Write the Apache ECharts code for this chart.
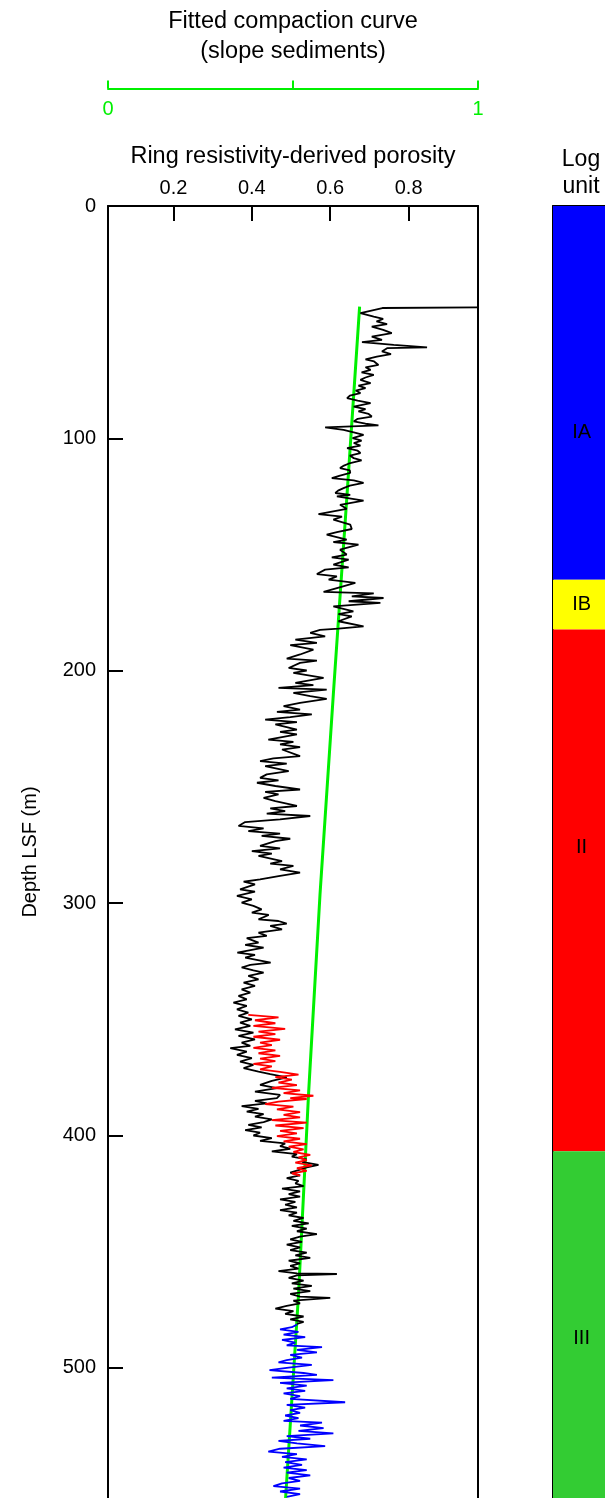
<!DOCTYPE html>
<html>
<head>
<meta charset="utf-8">
<script src="https://cdn.jsdelivr.net/npm/echarts@6/dist/echarts.min.js"></script>
<style>html,body{margin:0;padding:0;background:#fff}#c{width:605px;height:1498px}</style>
</head>
<body>
<div id="c"></div>
<script>
// ---------------- DATA ----------------
const porTicks = [0.2, 0.4, 0.6, 0.8];
const depthTicks = [0, 100, 200, 300, 400, 500];
const fitTicks = [0, 0.5, 1];
const fitTickLabels = [0, 1];

// Black: ring resistivity-derived porosity [depth m, porosity]
const blackCurve = [[43.6,.977],[43.9,.733],[44.7,.728],[46.1,.677],[47.6,.711],[48.6,.735],[49.7,.718],[50.8,.745],[51.9,.706],[53.3,.735],[54.7,.757],[56.2,.706],[57.6,.732],[58.6,.681],[59.8,.762],[60.8,.847],[61.2,.745],[62.6,.732],[63.7,.755],[64.8,.719],[66.0,.690],[66.9,.712],[68.4,.723],[69.4,.690],[70.5,.703],[71.6,.680],[72.7,.711],[73.8,.690],[74.8,.677],[76.2,.703],[77.3,.672],[78.4,.690],[79.4,.665],[80.5,.677],[81.6,.650],[82.7,.643],[83.8,.670],[84.8,.703],[86.3,.660],[87.4,.690],[88.4,.672],[89.5,.698],[90.6,.706],[91.6,.670],[92.7,.660],[93.7,.690],[94.4,.723],[95.3,.587],[96.3,.634],[97.4,.660],[98.5,.685],[99.9,.657],[101.0,.680],[102.0,.660],[103.1,.677],[104.2,.643],[105.3,.670],[106.3,.677],[107.4,.650],[108.5,.660],[109.5,.680],[110.6,.651],[111.7,.635],[112.8,.625],[113.8,.650],[114.9,.651],[116.0,.625],[117.1,.604],[118.1,.660],[119.2,.685],[120.3,.650],[121.4,.634],[122.5,.620],[123.5,.613],[124.3,.651],
[125.0,.617],[126.8,.685],[128.6,.625],[130.3,.642],[132.6,.570],[133.7,.630],[135.0,.608],[137.1,.651],[139.0,.655],[140.3,.617],[141.4,.591],[143.6,.642],[144.6,.608],[145.7,.672],[147.9,.625],[150.0,.642],[151.2,.604],[152.2,.647],[154.3,.608],[155.5,.647],[156.5,.587],[158.4,.566],[159.4,.617],[160.8,.596],[162.2,.664],[164.4,.617],[166.1,.583],[166.7,.711],[168.0,.655],[168.7,.736],[170.1,.647],[170.8,.728],[172.3,.608],[174.4,.659],[175.6,.621],[176.6,.655],[178.7,.621],[180.9,.685],[181.9,.621],[182.4,.574],[183.7,.549],[185.2,.587],[186.6,.511],[188.0,.566],[189.0,.498],[190.9,.557],[193.0,.523],[194.8,.489],[195.6,.566],[196.6,.523],[198.8,.494],[199.9,.540],[200.9,.506],[203.1,.583],[205.2,.511],[206.2,.557],[207.4,.468],[208.1,.591],[209.5,.506],
[210.9,.549],[212.1,.591],[213.8,.523],[215.2,.481],[216.7,.523],[217.7,.464],[218.8,.553],[220.0,.498],[221.0,.434],[222.1,.515],[223.1,.460],[225.3,.515],[226.3,.472],[227.4,.515],[229.6,.442],[230.6,.506],[231.7,.472],[232.9,.523],[233.9,.477],[236.7,.523],[237.7,.455],[238.9,.421],[240.0,.489],[241.0,.434],[243.2,.494],[244.6,.438],[246.1,.421],[247.2,.468],[248.2,.413],[249.6,.460],[251.1,.523],[252.1,.434],[253.2,.468],[254.7,.430],[256.1,.460],[258.2,.515],[259.2,.447],[260.4,.485],[261.5,.438],[262.5,.549],[264.0,.472],[265.1,.383],[266.8,.366],[267.8,.430],[269.0,.391],[270.1,.472],[271.1,.425],[272.3,.498],[273.3,.460],[275.4,.421],[276.4,.472],[277.6,.400],[278.7,.451],[279.7,.417],[281.9,.477],[283.0,.447],[284.0,.506],[285.5,.472],[286.9,.523],[288.3,.472],[289.8,.421],[290.8,.379],[291.9,.408],[294.1,.370],[295.1,.408],
[296.9,.362],[298.4,.400],[299.8,.374],[301.2,.404],[302.7,.425],[304.1,.400],[305.1,.443],[307.0,.417],[307.7,.468],[308.8,.489],[309.8,.447],[311.3,.477],[312.7,.417],[314.1,.438],[315.1,.387],[317.0,.417],[318.0,.383],[319.2,.430],[321.3,.363],[322.3,.408],[323.5,.383],[325.6,.448],[326.6,.396],[327.7,.374],[328.9,.404],[329.9,.430],[331.3,.391],[332.8,.417],[334.2,.379],[335.6,.408],[337.1,.374],[338.5,.396],[339.9,.366],[341.4,.387],[342.8,.353],[344.2,.387],[345.7,.362],[347.1,.391],[348.5,.366],[350.0,.400],[351.4,.370],[352.8,.396],[354.3,.357],[355.7,.404],[357.1,.366],[358.6,.408],[360.0,.374],[361.4,.396],[362.4,.345],[363.9,.387],[365.3,.362],[366.7,.400],[368.2,.370],[369.6,.404],[371.0,.379],[372.5,.417],[373.6,.447],[375.0,.489],[376.5,.451],[378.2,.421],[379.6,.464],[381.1,.408],[382.5,.472],
[383.9,.464],[385.1,.408],[386.2,.438],[387.4,.374],[388.5,.417],[389.7,.387],[390.8,.430],[391.9,.408],[393.1,.451],[394.2,.430],[395.4,.391],[396.5,.425],[397.7,.383],[398.8,.421],[400.0,.404],[401.1,.451],[402.3,.421],[403.4,.485],[404.6,.472],[405.7,.498],[406.8,.451],[408.0,.515],[409.1,.502],[410.3,.540],[411.4,.528],[412.6,.570],[413.7,.540],[414.9,.519],[416.0,.498],[417.2,.523],[418.3,.489],[419.5,.519],[420.6,.511],[421.8,.532],[422.9,.477],[424.0,.523],[425.2,.494],[426.3,.523],[427.5,.472],[428.6,.511],[429.8,.485],[430.9,.515],[432.1,.472],[433.2,.515],[434.4,.494],[435.5,.532],[436.7,.506],[437.8,.545],[438.9,.502],[440.1,.540],[441.2,.515],[442.4,.566],[443.5,.523],[444.7,.498],[445.8,.528],[447.0,.489],[448.1,.523],[449.3,.498],[450.4,.540],[451.6,.511],[452.7,.549],[453.9,.494],[455.0,.523],[456.1,.498],[457.3,.519],[458.4,.468],[459.3,.515],[459.6,.617],[460.2,.515],[461.3,.494],[462.5,.532],[463.6,.502],[464.7,.553],[465.9,.506],[467.0,.549],[468.2,.498],[469.3,.523],[469.9,.600],
[471.1,.506],[472.2,.523],[473.3,.489],[474.5,.460],[475.6,.506],[476.8,.485],[477.9,.532],[479.1,.498],[480.2,.532],[481.1,.515]];

// Red interval [depth m, porosity]
const redCurve = [[348.1,.391],[349.2,.468],[350.4,.408],[351.7,.460],[352.8,.404],[354.1,.485],[355.3,.417],[356.4,.460],[357.5,.404],[358.8,.472],[360.0,.421],[361.1,.451],[362.3,.404],[363.4,.460],[364.6,.417],[365.7,.472],[366.9,.421],[368.0,.460],[369.2,.404],[370.3,.451],[371.5,.421],[372.6,.472],[373.8,.519],[374.9,.460],[376.0,.502],[377.2,.468],[378.3,.515],[379.5,.451],[380.6,.523],[381.8,.481],[382.9,.557],[383.9,.498],[384.3,.540],[385.4,.468],[386.5,.434],[387.6,.506],[388.8,.464],[389.9,.523],[391.1,.481],[392.2,.523],[393.4,.451],[394.5,.540],[395.7,.460],[396.8,.532],[398.0,.472],[399.1,.515],[400.3,.464],[401.4,.523],[402.5,.481],[403.7,.540],[404.8,.494],[406.0,.532],[407.1,.506],[408.3,.549],[409.4,.519],[410.6,.540],[411.7,.511],[412.9,.553],[414.0,.515],[415.2,.540],[416.3,.502],[417.3,.523]];

// Blue interval [depth m, porosity]
const blueCurve = [[481.4,.515],[482.5,.502],[483.4,.472],[484.5,.519],[485.7,.481],[486.8,.536],[488.0,.477],[489.1,.511],[490.3,.489],[491.1,.579],[492.3,.515],[493.3,.566],[494.4,.498],[495.6,.528],[496.7,.489],[497.6,.468],[498.7,.553],[499.9,.494],[501.0,.445],[502.2,.532],[503.0,.566],[504.2,.451],[505.3,.608],[506.5,.472],[507.6,.540],[508.8,.489],[509.9,.536],[511.0,.481],[512.2,.523],[513.3,.498],[514.8,.638],[515.9,.489],[517.1,.536],[518.2,.498],[519.4,.523],[520.5,.485],[521.6,.519],[522.8,.481],[523.6,.579],[524.8,.523],[525.9,.583],[527.1,.519],[528.2,.608],[529.4,.489],[530.5,.549],[531.4,.468],[532.5,.515],[533.7,.587],[534.8,.472],[536.0,.442],[537.1,.515],[538.3,.477],[539.4,.540],[540.6,.485],[541.7,.528],[542.9,.481],[544.0,.540],[545.1,.489],[546.3,.549],[547.4,.494],[548.6,.523],[549.7,.477],[550.9,.455],[552.0,.523],[553.2,.472],[554.3,.523],[555.5,.489]];

// Fitted compaction curve (top green scale 0-1)
const fitDepth = [43.3, 124.3, 210.2, 296.2, 382.2, 468.2, 556];
const fitValue = [0.680, 0.646, 0.609, 0.573, 0.542, 0.515, 0.480];

// Log units
const unitNames = ['IA', 'IB', 'II', 'III'];
const unitTop = [0, 160.8, 182.3, 406.8];
const unitBottom = [160.8, 182.3, 406.8, 556];
const unitLabelDepth = [97.5, 171.5, 276, 487.5];

// ---------------- STYLE ----------------
const FONT = '"Liberation Sans", Arial, Helvetica, sans-serif';
const GREEN = '#00f000';
const unitColors = ['#0000ff', '#ffff00', '#ff0000', '#33cc33'];
const depthMax = 556;

const chart = echarts.init(document.getElementById('c'), null, {renderer: 'canvas'});

function txt(text, x, y, size, color) {
  return {type: 'text', x: x, y: y, silent: true,
    style: {text: text, align: 'center', verticalAlign: 'middle', fontSize: size, fontFamily: FONT, fill: color || '#000'}};
}

const option = {
  animation: false,
  backgroundColor: '#fff',
  textStyle: {fontFamily: FONT},
  grid: [
    {left: 108, right: 127, top: 206, bottom: 0},
    {left: 553, right: 0, top: 206, bottom: 0}
  ],
  xAxis: [
    {gridIndex: 0, type: 'value', position: 'top', min: 0.033, max: 0.977,
      axisLine: {show: true, onZero: false, lineStyle: {color: '#000', width: 2}},
      axisTick: {show: true, inside: true, length: 15, lineStyle: {color: '#000', width: 2}, customValues: porTicks},
      axisLabel: {customValues: porTicks, formatter: v => v.toFixed(1), fontSize: 20, color: '#000', margin: 8, fontFamily: FONT},
      splitLine: {show: false}},
    {gridIndex: 0, type: 'value', position: 'top', offset: 117.5, min: 0, max: 1,
      axisLine: {show: true, onZero: false, lineStyle: {color: GREEN, width: 2}},
      axisTick: {show: true, inside: false, length: 8, lineStyle: {color: GREEN, width: 2}, customValues: fitTicks},
      axisLabel: {inside: true, customValues: fitTickLabels, formatter: v => String(v), color: GREEN, fontSize: 20, margin: 11, fontFamily: FONT},
      splitLine: {show: false}},
    {gridIndex: 1, type: 'value', position: 'top', min: 0, max: 1,
      axisLine: {show: true, onZero: false, lineStyle: {color: '#000', width: 2}},
      axisTick: {show: false}, axisLabel: {show: false}, splitLine: {show: false}}
  ],
  yAxis: [
    {gridIndex: 0, type: 'value', inverse: true, min: 0, max: depthMax,
      axisLine: {show: true, onZero: false, lineStyle: {color: '#000', width: 2}},
      axisTick: {show: true, inside: true, length: 15, lineStyle: {color: '#000', width: 2}, customValues: depthTicks},
      axisLabel: {customValues: depthTicks, fontSize: 20, color: '#000', margin: 12, fontFamily: FONT},
      splitLine: {show: false},
      name: 'Depth LSF (m)', nameLocation: 'middle', nameGap: 68, nameRotate: 90,
      nameTextStyle: {fontSize: 20, color: '#000', fontFamily: FONT}},
    {gridIndex: 0, type: 'value', position: 'right', inverse: true, min: 0, max: depthMax,
      axisLine: {show: true, onZero: false, lineStyle: {color: '#000', width: 2}},
      axisTick: {show: false}, axisLabel: {show: false}, splitLine: {show: false}},
    {gridIndex: 1, type: 'value', inverse: true, min: 0, max: depthMax,
      axisLine: {show: true, onZero: false, lineStyle: {color: '#000', width: 2}},
      axisTick: {show: false}, axisLabel: {show: false}, splitLine: {show: false}}
  ],
  graphic: [
    txt('Fitted compaction curve', 293, 22, 23.5),
    txt('(slope sediments)', 293, 52, 23.5),
    txt('Ring resistivity-derived porosity', 293, 157, 23.5),
    txt('Log', 581, 160, 23),
    txt('unit', 581, 187, 23)
  ],
  series: [
    {type: 'custom', xAxisIndex: 2, yAxisIndex: 2, silent: true, z: 1,
      data: unitNames.map((n, i) => [i, unitTop[i], unitBottom[i]]),
      renderItem: function (params, api) {
        const i = api.value(0);
        const p1 = api.coord([0, unitTop[i]]);
        const p2 = api.coord([1, unitBottom[i]]);
        const pl = api.coord([0.55, unitLabelDepth[i]]);
        return {type: 'group', children: [
          {type: 'rect', shape: {x: p1[0], y: p1[1], width: p2[0] - p1[0] + 2, height: p2[1] - p1[1]},
            style: {fill: unitColors[i]}},
          {type: 'text', x: pl[0], y: pl[1],
            style: {text: unitNames[i], align: 'center', verticalAlign: 'middle', fontSize: 20, fontFamily: FONT, fill: '#000'}}
        ]};
      }},
    {type: 'line', name: 'fit', xAxisIndex: 1, yAxisIndex: 0, showSymbol: false, symbol: 'none', z: 2,
      data: fitDepth.map((d, i) => [fitValue[i], d]),
      lineStyle: {color: GREEN, width: 3}},
    {type: 'line', name: 'porosity', xAxisIndex: 0, yAxisIndex: 0, showSymbol: false, symbol: 'none', z: 3,
      data: blackCurve.map(p => [p[1], p[0]]),
      lineStyle: {color: '#000', width: 1.8}},
    {type: 'line', name: 'red', xAxisIndex: 0, yAxisIndex: 0, showSymbol: false, symbol: 'none', z: 4,
      data: redCurve.map(p => [p[1], p[0]]),
      lineStyle: {color: '#ff0000', width: 1.8}},
    {type: 'line', name: 'blue', xAxisIndex: 0, yAxisIndex: 0, showSymbol: false, symbol: 'none', z: 4,
      data: blueCurve.map(p => [p[1], p[0]]),
      lineStyle: {color: '#0000ff', width: 1.8}}
  ]
};
chart.setOption(option);
</script>
</body>
</html>
